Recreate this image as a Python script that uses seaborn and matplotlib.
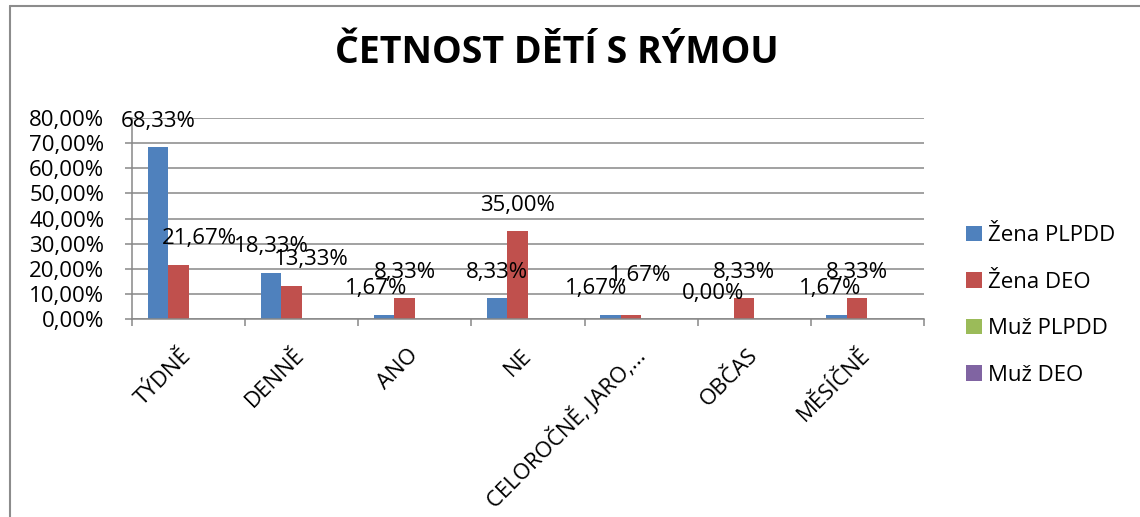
import numpy as np
import pandas as pd
import matplotlib
matplotlib.use("Agg")
import matplotlib.pyplot as plt
from matplotlib.patches import Patch
from matplotlib.lines import Line2D
import seaborn as sns

# ---- data ----
categories = ["TÝDNĚ", "DENNĚ", "ANO", "NE", "CELOROČNĚ, JARO,...", "OBČAS", "MĚSÍČNĚ"]
series_names = ["Žena PLPDD", "Žena DEO", "Muž PLPDD", "Muž DEO"]
zena_plpdd = [68.33, 18.33, 1.67, 8.33, 1.67, 0.00, 1.67]
zena_deo = [21.67, 13.33, 8.33, 35.00, 1.67, 8.33, 8.33]
muz_plpdd = [np.nan] * 7
muz_deo = [np.nan] * 7
y_ticks = [0, 10, 20, 30, 40, 50, 60, 70, 80]
title = "ČETNOST DĚTÍ S RÝMOU"

# label nudges in pixels (dx, dy) for (series index, category index), as placed in the original
label_nudge = {
    (1, 0): (21, 0), (1, 1): (20, 0), (0, 2): (-8, 0),
    (0, 4): (-14, 0), (1, 4): (9, 13), (0, 5): (-10, 0), (0, 6): (-7, 0),
}

colors = ["#4F81BD", "#C0504D", "#9BBB59", "#8064A2"]
grid_color = "#878787"

df = pd.DataFrame({
    "category": categories * 4,
    "series": sum([[s] * len(categories) for s in series_names], []),
    "value": zena_plpdd + zena_deo + muz_plpdd + muz_deo,
})

sns.set_style("white")
plt.rcParams["font.family"] = ["Open Sans", "DejaVu Sans"]
plt.rcParams["text.color"] = "black"
plt.rcParams["xtick.labelcolor"] = "black"
plt.rcParams["ytick.labelcolor"] = "black"

W, H = 1140, 517
fig = plt.figure(figsize=(W / 100, H / 100), dpi=100)
ax = fig.add_axes([132 / W, 1 - 319 / H, (924 - 132) / W, (319 - 118) / H])

group_w = 0.726
sns.barplot(data=df, x="category", y="value", hue="series", order=categories,
            hue_order=series_names, palette=colors, width=group_w, ax=ax,
            legend=False, errorbar=None, linewidth=0, edgecolor="none", saturation=1)

ax.set_xlim(-0.5, len(categories) - 0.5)
ax.set_ylim(0, 80)
ax.set_xlabel("")
ax.set_ylabel("")

# y axis
ax.set_yticks(y_ticks)
ax.set_yticklabels([f"{t:.2f}%".replace(".", ",") for t in y_ticks])
ax.yaxis.grid(True, color=grid_color, linewidth=1.1)
ax.set_axisbelow(True)
ax.tick_params(axis="y", direction="out", length=5, width=1.1, color=grid_color,
               pad=15, labelsize=16, left=True, labelcolor="black")

# x axis: major ticks at boundaries, labels at centers
bounds = np.arange(len(categories) + 1) - 0.5
ax.set_xticks(bounds)
ax.set_xticklabels([""] * len(bounds))
ax.set_xticks(np.arange(len(categories)), minor=True)
ax.set_xticklabels(categories, minor=True, rotation=45, ha="right", va="center",
                   rotation_mode="anchor", fontsize=16, color="black")
ax.tick_params(axis="x", which="major", direction="out", length=5, width=1.1,
               color=grid_color, bottom=True)
ax.tick_params(axis="x", which="minor", length=0, pad=24)

for side in ["top", "right"]:
    ax.spines[side].set_visible(False)
for side in ["left", "bottom"]:
    ax.spines[side].set_color(grid_color)
    ax.spines[side].set_linewidth(1.1)

# data labels
slot = group_w / len(series_names)
for bar in ax.patches:
    h = bar.get_height()
    if h is None or np.isnan(h):
        continue
    xc = bar.get_x() + bar.get_width() / 2
    ci = int(round(xc))
    si = int(round((xc - ci) / slot + (len(series_names) - 1) / 2))
    dx, dy = label_nudge.get((si, ci), (0, 0))
    ax.annotate(f"{h:.2f}%".replace(".", ","), (xc, h), xytext=(dx, 26 + dy),
                textcoords="offset pixels", ha="center", va="center",
                fontsize=16, color="black", annotation_clip=False)

# legend
handles = [Patch(facecolor=c, edgecolor="none") for c in colors]
fig.legend(handles, series_names, loc="center left",
           bbox_to_anchor=(966 / W, 1 - 305.5 / H), frameon=False, fontsize=16,
           handlelength=0.7, handleheight=0.7, handletextpad=0.3,
           labelspacing=1.15, borderpad=0, borderaxespad=0, labelcolor="black")

# title
fig.text(557 / W, 1 - 63 / H, title, ha="center", va="baseline",
         fontsize=27, fontweight="bold", color="black")

# chart border (left and top edges visible)
fig.add_artist(Line2D([10.5 / W, 10.5 / W], [0, 1 - 6 / H], color="#8c8c8c",
                      linewidth=1.5, transform=fig.transFigure))
fig.add_artist(Line2D([10.5 / W, 1], [1 - 6 / H, 1 - 6 / H], color="#8c8c8c",
                      linewidth=1.5, transform=fig.transFigure))

fig.savefig("out.png", dpi=100)
